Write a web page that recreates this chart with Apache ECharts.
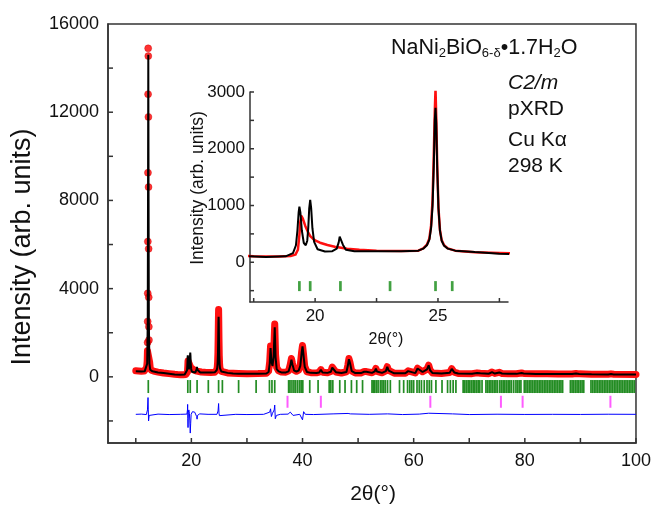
<!DOCTYPE html>
<html>
<head>
<meta charset="utf-8">
<script src="https://cdn.jsdelivr.net/npm/echarts@6.0.0/dist/echarts.min.js"></script>
<style>
  html, body { margin: 0; padding: 0; background: #fff; }
  #chart { width: 654px; height: 507px; }
</style>
</head>
<body>
<div id="chart"></div>
<script>
const obsProfile = [
  [10.0,275],[10.5,265],[11.0,255],[11.5,260],[11.8,300],[11.95,420],[12.05,700],[12.1,1180],[12.4,1200],[12.5,650],
  [12.6,400],[12.8,300],[13.2,260],[14,215],[15,175],[16,145],[17,115],[17.5,105],[18,100],[18.5,100],
  [19.0,110],[19.2,135],[19.3,220],[19.36,480],[19.4,720],[19.45,810],[19.5,770],[19.6,640],[19.7,540],[19.8,460],
  [19.9,420],[20.0,385],[20.2,345],[20.5,305],[20.8,275],[21.0,262],[21.3,240],[21.8,220],[22.5,205],[23.5,200],
  [24.2,205],[24.4,245],[24.55,310],[24.65,420],[24.72,650],[24.78,1100],[24.83,1900],[24.87,2650],[24.9,3050],[24.93,2550],
  [24.97,1700],[25.02,960],[25.08,570],[25.15,390],[25.25,300],[25.4,245],[25.7,205],[26.5,178],[27.5,165],[28.5,155],
  [30,145],[32,148],[33.5,160],[33.9,260],[34.1,700],[34.25,1400],[34.4,800],[34.6,600],[34.8,1000],[35.0,2400],
  [35.15,1000],[35.35,420],[35.7,270],[36.2,215],[37.0,210],[37.5,270],[37.8,560],[38.0,830],[38.2,600],[38.5,300],
  [38.9,250],[39.3,300],[39.6,540],[39.85,1150],[40.0,1420],[40.15,1100],[40.4,470],[40.8,230],[41.5,190],[42.5,180],
  [43.0,210],[43.3,330],[43.6,210],[44.5,185],[45.1,240],[45.35,440],[45.5,520],[45.7,400],[46.0,220],[47.0,175],
  [47.9,230],[48.15,520],[48.35,830],[48.55,640],[48.85,270],[49.5,175],[50.5,175],[51.1,240],[51.3,330],[51.5,240],
  [52.5,185],[53.0,260],[53.2,380],[53.4,250],[54.3,185],[55.0,270],[55.25,460],[55.5,290],[56.5,165],[58.5,165],
  [59.0,270],[59.3,185],[60.3,175],[60.7,390],[60.9,480],[61.15,310],[61.6,230],[62.4,350],[62.7,530],[62.95,310],
  [63.4,175],[65,155],[66.5,195],[66.85,370],[67.05,390],[67.3,210],[68,155],[70.5,145],[71.4,180],[71.7,210],
  [72.0,165],[73.5,145],[74.1,220],[74.3,205],[74.6,155],[75.4,205],[75.6,215],[75.9,155],[77,140],[78.5,140],
  [79.4,175],[79.8,155],[82,135],[84,135],[86,130],[88.5,130],[89.2,155],[89.8,135],[92,120],[95,115],
  [95.5,135],[96,115],[100,110]
];
// single points of the strong (001) reflection
const obsPeak = [
  [12.12,1560],[12.14,2514],[12.15,3786],[12.17,6136],[12.19,9259],[12.21,12818],[12.23,14895],
  [12.25,14545],[12.27,11786],[12.29,8605],[12.31,5805],[12.33,3605],[12.35,2273],[12.37,1668]
];
// calculated pattern (black)
const calc = [
  [10.0,255],[11.0,240],[11.6,250],[11.9,300],[12.05,600],[12.15,2500],[12.2,8000],[12.25,14600],[12.3,8000],[12.35,2500],
  [12.45,600],[12.6,320],[13,250],[14,200],[15,170],[16,140],[17,110],[18,95],[18.8,105],[19.1,160],
  [19.22,300],[19.28,560],[19.33,880],[19.36,980],[19.40,880],[19.46,560],[19.54,340],[19.62,300],[19.68,380],[19.72,600],
  [19.76,950],[19.80,1100],[19.84,950],[19.89,600],[19.96,360],[20.1,230],[20.4,190],[20.7,195],[20.88,240],[20.96,350],
  [21.0,450],[21.03,475],[21.07,430],[21.13,310],[21.25,220],[21.6,195],[22.5,195],[23.5,195],[24.2,205],[24.4,240],
  [24.55,300],[24.65,400],[24.72,600],[24.78,1000],[24.83,1700],[24.87,2500],[24.9,2720],[24.93,2450],[24.97,1650],[25.02,950],
  [25.08,560],[25.15,380],[25.25,290],[25.4,240],[25.7,205],[26.5,180],[27.5,150],[28.5,140],[30,135],[32,140],
  [33.5,150],[33.9,220],[34.1,600],[34.25,1300],[34.4,700],[34.6,500],[34.8,900],[35.0,2250],[35.15,900],[35.35,350],
  [35.7,250],[36.2,200],[37.0,200],[37.5,250],[37.8,500],[38.0,780],[38.2,550],[38.5,280],[38.9,240],[39.3,280],
  [39.6,500],[39.85,1100],[40.0,1380],[40.15,1050],[40.4,450],[40.8,220],[41.5,180],[42.5,170],[43.0,200],[43.3,320],
  [43.6,200],[44.5,180],[45.1,230],[45.35,420],[45.5,500],[45.7,380],[46.0,210],[47.0,170],[47.9,220],[48.15,500],
  [48.35,800],[48.55,620],[48.85,260],[49.5,170],[50.5,170],[51.1,230],[51.3,320],[51.5,230],[52.5,180],[53.0,250],
  [53.2,370],[53.4,240],[54.3,180],[55.0,260],[55.25,450],[55.5,280],[56.5,160],[58.5,160],[59.0,260],[59.3,180],
  [60.3,170],[60.7,380],[60.9,470],[61.15,300],[61.6,220],[62.4,340],[62.7,520],[62.95,300],[63.4,170],[65,150],
  [66.5,190],[66.85,360],[67.05,380],[67.3,200],[68,150],[70.5,140],[71.4,170],[71.7,200],[72.0,160],[73.5,140],
  [74.1,210],[74.3,200],[74.6,150],[75.4,200],[75.6,210],[75.9,150],[77,135],[78.5,135],[79.4,170],[79.8,150],
  [82,130],[84,130],[86,125],[88.5,125],[89.2,150],[89.8,130],[92,115],[95,110],[95.5,130],[96,110],[100,105]
];
// difference curve (blue), already offset
const diff = [
  [10,-1700],[11,-1690],[11.9,-1710],[12.1,-1500],[12.2,-940],[12.25,-1500],[12.3,-2000],[12.4,-1750],[12.6,-1700],[14,-1690],
  [16,-1710],[18,-1700],[19.2,-1690],[19.3,-1500],[19.33,-1250],[19.36,-1900],[19.4,-2300],[19.46,-1600],[19.55,-1500],[19.65,-1650],
  [19.72,-2000],[19.8,-2550],[19.88,-2100],[19.96,-1700],[20.2,-1580],[20.6,-1600],[20.95,-1800],[21.03,-1920],[21.1,-1750],[21.5,-1680],
  [23,-1700],[24.6,-1700],[24.8,-1550],[24.9,-1210],[24.97,-1650],[25.05,-1760],[25.3,-1700],[28,-1700],[30,-1710],[33,-1700],
  [34.1,-1600],[34.25,-1450],[34.4,-1800],[34.6,-1650],[34.9,-1500],[35.0,-1280],[35.1,-1900],[35.3,-1750],[36,-1700],[37.4,-1690],
  [37.8,-1600],[38.0,-1550],[38.3,-1750],[39.5,-1700],[39.8,-1650],[40.0,-1950],[40.2,-1580],[40.5,-1700],[42,-1710],[45.5,-1680],
  [48.2,-1660],[48.4,-1740],[48.6,-1680],[52,-1700],[55.3,-1680],[58,-1710],[61,-1690],[62.7,-1650],[63,-1720],[67,-1680],
  [70,-1710],[75,-1695],[80,-1705],[85,-1700],[90,-1705],[95,-1695],[100,-1700]
];
// Bragg positions, main phase (green) and impurity (magenta)
const braggMain = [
  12.25,19.36,19.8,21.03,23.05,24.9,25.58,28.5,31.65,34.05,34.5,35.0,37.5,37.75,38.1,38.45,38.75,39.1,39.45,39.75,
  40.05,41.3,42.8,44.8,45.1,45.45,46.7,47.65,48.8,49.75,50.8,52.5,52.75,53.0,53.3,53.6,54.0,54.3,54.6,54.9,
  55.3,55.8,57.45,58.2,58.9,59.3,59.65,60.0,60.6,61.0,61.4,61.9,62.4,62.8,63.2,64.0,65.1,66.1,66.6,67.1,
  67.6,68.9,69.2,69.5,69.8,70.1,70.4,70.7,71.0,71.3,71.6,71.9,72.3,73.0,73.3,73.6,73.9,74.2,74.5,74.8,
  75.1,75.5,75.8,76.1,76.4,76.7,77.0,77.3,77.6,78.0,78.4,78.7,79.0,79.3,79.9,80.2,80.5,80.8,81.1,81.4,
  81.7,82.0,82.3,82.6,82.9,83.2,83.5,83.8,84.1,84.4,84.7,85.0,85.3,85.6,85.9,86.2,86.5,86.8,88.2,88.5,
  88.8,89.1,89.4,89.7,90.0,90.3,90.6,91.9,92.2,92.5,92.8,93.1,93.4,93.7,94.0,94.3,94.6,94.9,95.2,95.5,
  95.8,96.1,96.4,96.7,97.0,97.3,97.6,97.9,98.2,98.5,98.8,99.1,99.4,99.7
];
const braggImp = [37.3, 43.3, 63.0, 75.7, 79.6, 95.4];

// axis ticks / labels
const mainXTicks = [10, 20, 30, 40, 50, 60, 70, 80, 90, 100];
const mainXLabels = [20, 40, 60, 80, 100];
const mainYTicks = [-2000, 0, 2000, 4000, 6000, 8000, 10000, 12000, 14000];
const mainYLabels = [0, 4000, 8000, 12000, 16000];
const insetXTicks = [17.5, 20, 22.5, 25, 27.5];
const insetXLabels = [20, 25];
const insetYTicks = [-500, 0, 500, 1000, 1500, 2000, 2500, 3000];
const insetYLabels = [0, 1000, 2000, 3000];

const FONT = "'Liberation Sans', Arial, sans-serif";
const AX = '#333';
const TXT = '#111';

const chart = echarts.init(document.getElementById('chart'), null, { renderer: 'canvas' });

function axis(grid, min, max, labels, o) {
  return {
    type: 'value', gridIndex: grid, min: min, max: max,
    axisLine: { show: true, onZero: false, lineStyle: { color: AX, width: 1.5 } },
    axisTick: { show: false },
    axisLabel: { customValues: labels, fontSize: o.font, fontFamily: FONT, color: TXT, margin: o.margin,
      formatter: v => String(v) },
    splitLine: { show: false }
  };
}

// inward tick marks, placed through the axes (horiz = ticks on the x axis)
function ticks(idx, vals, horiz, at, len) {
  return {
    type: 'custom', xAxisIndex: idx, yAxisIndex: idx, z: 6, silent: true,
    data: vals.map(v => horiz ? [v, at] : [at, v]),
    renderItem: (params, api) => {
      const p = api.coord([api.value(0), api.value(1)]);
      const shape = horiz
        ? { x1: p[0], y1: p[1], x2: p[0], y2: p[1] - len }
        : { x1: p[0], y1: p[1], x2: p[0] + len, y2: p[1] };
      return { type: 'line', shape: shape, style: { stroke: AX, lineWidth: 1.5 } };
    }
  };
}

const option = {
  animation: false,
  backgroundColor: '#fff',
  grid: [
    { left: 108, top: 24, width: 529, height: 419, show: true, borderColor: AX, borderWidth: 1.5 },
    { left: 250, top: 92, width: 258, height: 210 }
  ],
  xAxis: [
    axis(0, 5, 100, mainXLabels, { font: 18, margin: 9 }),
    axis(1, 17.35, 27.85, insetXLabels, { font: 17, margin: 6 })
  ],
  yAxis: [
    axis(0, -3000, 16000, mainYLabels, { font: 18, margin: 9 }),
    axis(1, -700, 3000, insetYLabels, { font: 17, margin: 5 })
  ],
  series: [
    { type: 'line', xAxisIndex: 0, yAxisIndex: 0, data: obsProfile, showSymbol: false, z: 2,
      lineStyle: { color: '#ff1010', width: 7, join: 'round', cap: 'round' } },
    { type: 'scatter', xAxisIndex: 0, yAxisIndex: 0, data: obsPeak, symbolSize: 7, z: 2,
      itemStyle: { color: '#ff0000', borderColor: '#cc0000', borderWidth: 0.5 } },
    { type: 'line', xAxisIndex: 0, yAxisIndex: 0, data: calc, showSymbol: false, z: 3,
      lineStyle: { color: '#000', width: 2 } },
    { type: 'scatter', xAxisIndex: 0, yAxisIndex: 0, data: braggMain.map(p => [p, -440]),
      symbol: 'rect', symbolSize: [1.7, 13], z: 3, itemStyle: { color: '#0b7f0b', opacity: 0.9 } },
    { type: 'scatter', xAxisIndex: 0, yAxisIndex: 0, data: braggImp.map(p => [p, -1130]),
      symbol: 'rect', symbolSize: [2, 12], z: 3, itemStyle: { color: '#ff33ff' } },
    { type: 'line', xAxisIndex: 0, yAxisIndex: 0, data: diff, showSymbol: false, z: 3,
      lineStyle: { color: '#0000ff', width: 1 } },
    // inset
    { type: 'line', xAxisIndex: 1, yAxisIndex: 1, data: obsProfile, showSymbol: false, z: 4, clip: true,
      lineStyle: { color: '#ff1010', width: 2.5, join: 'round' } },
    { type: 'line', xAxisIndex: 1, yAxisIndex: 1, data: calc, showSymbol: false, z: 5, clip: true,
      lineStyle: { color: '#000', width: 2 } },
    { type: 'scatter', xAxisIndex: 1, yAxisIndex: 1, data: braggMain.map(p => [p, -420]), clip: true,
      symbol: 'rect', symbolSize: [2.7, 10], z: 5, itemStyle: { color: '#138a13' } },
    // tick marks
    ticks(0, mainXTicks, true, -3000, 5),
    ticks(0, mainYTicks, false, 5, 5),
    ticks(1, insetXTicks, true, -700, 4),
    ticks(1, insetYTicks, false, 17.35, 4)
  ],
  graphic: [
    { type: 'text', x: 23, y: 247, rotation: Math.PI / 2, z: 10,
      style: { text: 'Intensity (arb. units)', fontSize: 27, fontFamily: FONT, fill: TXT, align: 'center', verticalAlign: 'middle' } },
    { type: 'text', x: 373, y: 494, z: 10,
      style: { text: '2θ(°)', fontSize: 21, fontFamily: FONT, fill: TXT, align: 'center', verticalAlign: 'middle' } },
    { type: 'text', x: 198, y: 188, rotation: Math.PI / 2, z: 10,
      style: { text: 'Intensity (arb. units)', fontSize: 17.5, fontFamily: FONT, fill: TXT, align: 'center', verticalAlign: 'middle' } },
    { type: 'text', x: 386, y: 340, z: 10,
      style: { text: '2θ(°)', fontSize: 16, fontFamily: FONT, fill: TXT, align: 'center', verticalAlign: 'middle' } },
    { type: 'text', x: 391, y: 48, z: 10,
      style: {
        text: '{a|NaNi}{s|2}{a|BiO}{s|6-δ}{a|•1.7H}{s|2}{a|O}',
        align: 'left', verticalAlign: 'middle',
        rich: {
          a: { fontSize: 21.5, fontFamily: FONT, fill: TXT, lineHeight: 24, verticalAlign: 'middle' },
          s: { fontSize: 13, fontFamily: FONT, fill: TXT, lineHeight: 13, verticalAlign: 'bottom' }
        }
      } },
    { type: 'text', x: 508, y: 83, z: 10,
      style: { text: 'C2/m', fontSize: 21, fontStyle: 'italic', fontFamily: FONT, fill: TXT, align: 'left', verticalAlign: 'middle' } },
    { type: 'text', x: 508, y: 109, z: 10,
      style: { text: 'pXRD', fontSize: 21, fontFamily: FONT, fill: TXT, align: 'left', verticalAlign: 'middle' } },
    { type: 'text', x: 508, y: 140, z: 10,
      style: { text: 'Cu Kα', fontSize: 21, fontFamily: FONT, fill: TXT, align: 'left', verticalAlign: 'middle' } },
    { type: 'text', x: 508, y: 166, z: 10,
      style: { text: '298 K', fontSize: 21, fontFamily: FONT, fill: TXT, align: 'left', verticalAlign: 'middle' } }
  ]
};

chart.setOption(option);
</script>
</body>
</html>
